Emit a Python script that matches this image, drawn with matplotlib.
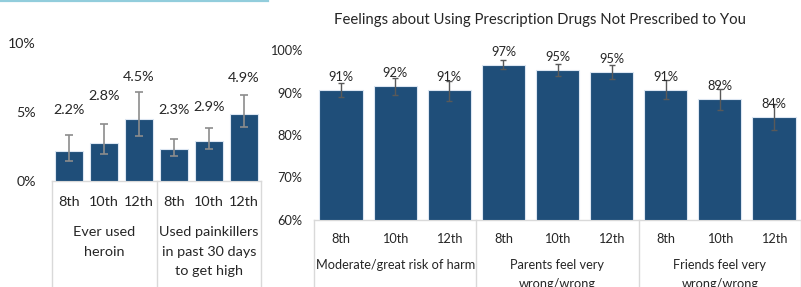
import matplotlib
matplotlib.use("Agg")
import matplotlib.pyplot as plt
from matplotlib.lines import Line2D

plt.rcParams['font.family'] = ['Lato', 'DejaVu Sans']

# ---- data ----
left_grades = ["8th", "10th", "12th", "8th", "10th", "12th"]
left_groups = ["Ever used\nheroin", "Used painkillers\nin past 30 days\nto get high"]
left_values = [2.2, 2.8, 4.5, 2.3, 2.9, 4.9]
left_labels = ["2.2%", "2.8%", "4.5%", "2.3%", "2.9%", "4.9%"]
left_err_low = [1.45, 1.95, 3.3, 1.85, 2.3, 3.95]
left_err_high = [3.35, 4.15, 6.45, 3.05, 3.85, 6.25]
left_yticks = [0, 5, 10]

title = "Feelings about Using Prescription Drugs Not Prescribed to You"
right_grades = ["8th", "10th", "12th"] * 3
right_groups = ["Moderate/great risk of harm", "Parents feel very\nwrong/wrong",
                "Friends feel very\nwrong/wrong"]
right_values = [90.6, 91.5, 90.5, 96.4, 95.3, 94.8, 90.6, 88.4, 84.2]
right_labels = ["91%", "92%", "91%", "97%", "95%", "95%", "91%", "89%", "84%"]
right_err_low = [88.9, 89.5, 88.0, 95.5, 93.8, 93.2, 88.5, 86.0, 81.1]
right_err_high = [92.3, 93.4, 92.7, 97.6, 96.6, 96.5, 92.9, 90.8, 87.3]
right_yticks = [60, 70, 80, 90, 100]

BAR = "#1f4e79"
EDGE = "#dce6f2"
GRID = "#d9d9d9"
TXT = "#262626"

W, H = 801, 287
fig = plt.figure(figsize=(W / 100, H / 100), dpi=100)

def px_axes(x0, x1, ytop, ybot):
    return fig.add_axes([x0 / W, (H - ybot) / H, (x1 - x0) / W, (ybot - ytop) / H])

# top decorative line
fig.add_artist(Line2D([0, 268 / W], [1 - 0.8 / H, 1 - 0.8 / H], color="#92cddc", lw=1.6,
                      transform=fig.transFigure))

def draw(ax, values, lo, hi, grades, groups, ylim, yticks, fs_tick, fs_cat, ecol,
         cap, grade_y_px, group_y_px, tick_pad_px, lw_err, spacing):
    n = len(values)
    xs = list(range(n))
    ax.bar(xs, [v - ylim[0] for v in values], bottom=ylim[0], width=0.8, color=BAR,
           edgecolor=EDGE, linewidth=0.8, zorder=2)
    yerr = [[v - l for v, l in zip(values, lo)], [h - v for v, h in zip(values, hi)]]
    ax.errorbar(xs, values, yerr=yerr, fmt="none", ecolor=ecol, elinewidth=lw_err,
                capsize=cap, capthick=lw_err, zorder=3)
    ax.set_xlim(-0.5, n - 0.5)
    ax.set_ylim(*ylim)
    ax.set_yticks(yticks)
    ax.set_yticklabels([f"{t}%" for t in yticks], fontsize=fs_tick, color=TXT)
    ax.tick_params(axis="y", length=0, pad=tick_pad_px * 0.72)
    ax.set_xticks([])
    for s in ax.spines.values():
        s.set_visible(False)
    tr = ax.get_xaxis_transform()
    ax.plot([-0.5, n - 0.5], [0, 0], transform=tr, color=GRID, lw=1, clip_on=False, zorder=1)
    for sx in [-0.5 + 3 * k for k in range(n // 3 + 1)]:
        ax.plot([sx, sx], [0, -2], transform=tr, color=GRID, lw=1, clip_on=False)
    for i, g in enumerate(grades):
        ax.annotate(g, (i, 0), xycoords=tr, xytext=(0, -grade_y_px * 0.72),
                    textcoords="offset points", ha="center", va="center",
                    fontsize=fs_cat, color=TXT)
    for k, g in enumerate(groups):
        lines = g.split("\n")
        for j, line in enumerate(lines):
            ax.annotate(line, (3 * k + 1, 0), xycoords=tr,
                        xytext=(0, -(group_y_px + j * spacing) * 0.72),
                        textcoords="offset points", ha="center", va="center",
                        fontsize=fs_cat, color=TXT)

# ---- left chart ----
axL = px_axes(52, 261, 43.5, 181)
draw(axL, left_values, left_err_low, left_err_high, left_grades, left_groups,
     (0, 10), left_yticks, 10.2, 10.4, "#8c8c8c", 3, 21, 51, 16, 1.2, 19.5)
left_lab_off = [41, 47, 42, 39, 34, 36]
for i, v in enumerate(left_values):
    axL.annotate(left_labels[i], (i, v), xytext=(0, left_lab_off[i] * 0.72),
                 textcoords="offset points", ha="center", va="center",
                 fontsize=10.4, color=TXT)

# ---- right chart ----
axR = px_axes(314, 801, 50, 220)
draw(axR, right_values, right_err_low, right_err_high, right_grades, right_groups,
     (60, 100), right_yticks, 9.2, 9.2, "#595959", 2.5, 19, 45, 12, 1.0, 18.5)
for i, v in enumerate(right_values):
    axR.annotate(right_labels[i], (i, v), xytext=(0, 13.3 * 0.72),
                 textcoords="offset points", ha="center", va="center",
                 fontsize=9.2, color=TXT)

fig.text(540 / W, 1 - 20 / H, title, ha="center", va="center", fontsize=10.7, color=TXT)

fig.savefig("out.png", dpi=100)
